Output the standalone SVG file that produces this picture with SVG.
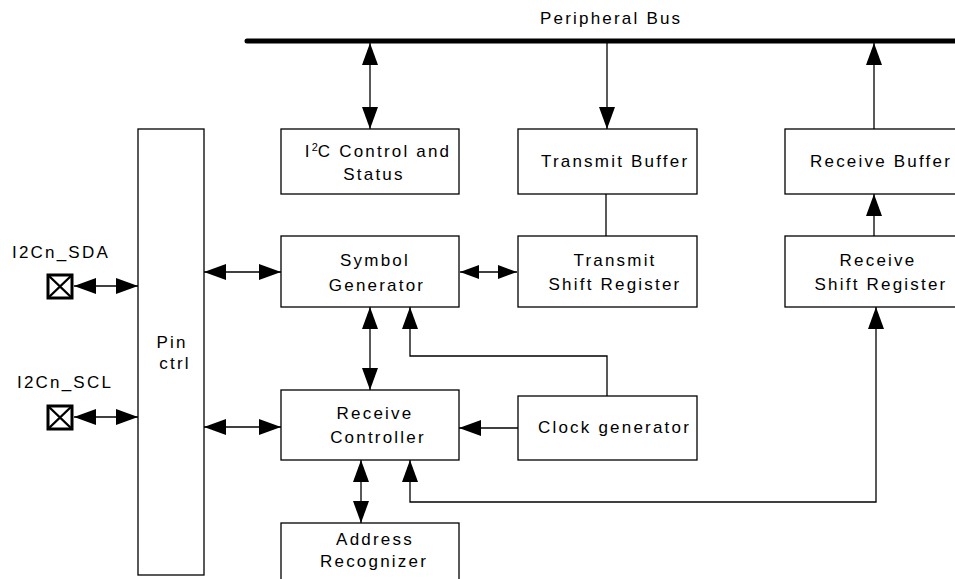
<svg xmlns="http://www.w3.org/2000/svg" width="955" height="579" viewBox="0 0 955 579">
<style>
.box{fill:#fff;stroke:#000;stroke-width:1.3}
.pad{fill:#fff;stroke:#000;stroke-width:3}
.ln{fill:none;stroke:#000;stroke-width:1.3}
.x{fill:none;stroke:#000;stroke-width:2.4}
text{font-family:"Liberation Sans",Arial,sans-serif;font-size:17px;letter-spacing:2.2px;fill:#000}
.m{text-anchor:middle}
</style>
<defs>
<marker id="a" markerUnits="userSpaceOnUse" viewBox="0 0 22 16" refX="22" refY="8" markerWidth="22" markerHeight="16" orient="auto-start-reverse"><path d="M0,0 L22,8 L0,16 z" fill="#000"/></marker>
<marker id="s" markerUnits="userSpaceOnUse" viewBox="0 0 19 14" refX="19" refY="7" markerWidth="19" markerHeight="14" orient="auto-start-reverse"><path d="M0,0 L19,7 L0,14 z" fill="#000"/></marker>
</defs>

<g id="bus">
<line x1="247" y1="41" x2="965" y2="41" stroke="#000" stroke-width="5" stroke-linecap="round"/>
<text x="540" y="24">Peripheral Bus</text>
</g>

<g id="pinctrl">
<rect class="box" x="138" y="129" width="66" height="446"/>
<text class="m" x="172" y="348">Pin</text>
<text class="m" x="175" y="369">ctrl</text>
</g>

<g id="sda">
<text x="12" y="258">I2Cn_SDA</text>
<rect class="pad" x="48" y="275" width="24" height="23"/>
<path class="x" d="M48,275 L72,298 M72,275 L48,298"/>
</g>

<g id="scl">
<text x="17" y="388">I2Cn_SCL</text>
<rect class="pad" x="48" y="406" width="24" height="23"/>
<path class="x" d="M48,406 L72,429 M72,406 L48,429"/>
</g>

<g id="i2cctrl">
<rect class="box" x="281" y="129" width="178" height="65"/>
<text class="m" x="378" y="157">I<tspan dy="-6" font-size="11" letter-spacing="0">2</tspan><tspan dy="6">C Control and</tspan></text>
<text class="m" x="374" y="180">Status</text>
</g>

<g id="txbuf">
<rect class="box" x="518" y="129" width="179" height="65"/>
<text x="541" y="167">Transmit Buffer</text>
</g>

<g id="rxbuf">
<rect class="box" x="785" y="129" width="180" height="65"/>
<text x="810" y="167">Receive Buffer</text>
</g>

<g id="symgen">
<rect class="box" x="281" y="236" width="178" height="71"/>
<text class="m" x="375" y="266">Symbol</text>
<text class="m" x="377" y="291">Generator</text>
</g>

<g id="txshift">
<rect class="box" x="518" y="236" width="179" height="71"/>
<text class="m" x="615" y="266">Transmit</text>
<text class="m" x="615" y="290">Shift Register</text>
</g>

<g id="rxshift">
<rect class="box" x="785" y="236" width="180" height="71"/>
<text class="m" x="878" y="266">Receive</text>
<text class="m" x="881" y="290">Shift Register</text>
</g>

<g id="rxctrl">
<rect class="box" x="281" y="390" width="178" height="70"/>
<text class="m" x="375" y="419">Receive</text>
<text class="m" x="378" y="443">Controller</text>
</g>

<g id="clockgen">
<rect class="box" x="518" y="396" width="179" height="64"/>
<text x="538" y="433">Clock generator</text>
</g>

<g id="addrrec">
<rect class="box" x="281" y="523" width="178" height="65"/>
<text class="m" x="375" y="545">Address</text>
<text class="m" x="374" y="567">Recognizer</text>
</g>

<g id="connectors">
<line class="ln" x1="370" y1="43" x2="370" y2="129" marker-start="url(#a)" marker-end="url(#a)"/>
<line class="ln" x1="607" y1="43" x2="607" y2="129" marker-end="url(#a)"/>
<line class="ln" x1="874" y1="129" x2="874" y2="43" marker-end="url(#a)"/>
<line class="ln" x1="606" y1="194" x2="606" y2="236"/>
<line class="ln" x1="874" y1="236" x2="874" y2="194" marker-end="url(#a)"/>
<line class="ln" x1="74" y1="286" x2="138" y2="286" marker-start="url(#a)" marker-end="url(#a)"/>
<line class="ln" x1="74" y1="417" x2="138" y2="417" marker-start="url(#a)" marker-end="url(#a)"/>
<line class="ln" x1="204" y1="272" x2="281" y2="272" marker-start="url(#a)" marker-end="url(#a)"/>
<line class="ln" x1="204" y1="427" x2="281" y2="427" marker-start="url(#a)" marker-end="url(#a)"/>
<line class="ln" x1="460" y1="272" x2="517" y2="272" marker-start="url(#s)" marker-end="url(#s)"/>
<line class="ln" x1="370" y1="307" x2="370" y2="390" marker-start="url(#a)" marker-end="url(#a)"/>
<polyline class="ln" points="607,396 607,356 410,356 410,307" marker-end="url(#a)"/>
<line class="ln" x1="518" y1="428" x2="459" y2="428" marker-end="url(#a)"/>
<line class="ln" x1="361" y1="460" x2="361" y2="523" marker-start="url(#a)" marker-end="url(#a)"/>
<polyline class="ln" points="410,460 410,502 876,502 876,307" marker-start="url(#a)" marker-end="url(#a)"/>
</g>
</svg>
